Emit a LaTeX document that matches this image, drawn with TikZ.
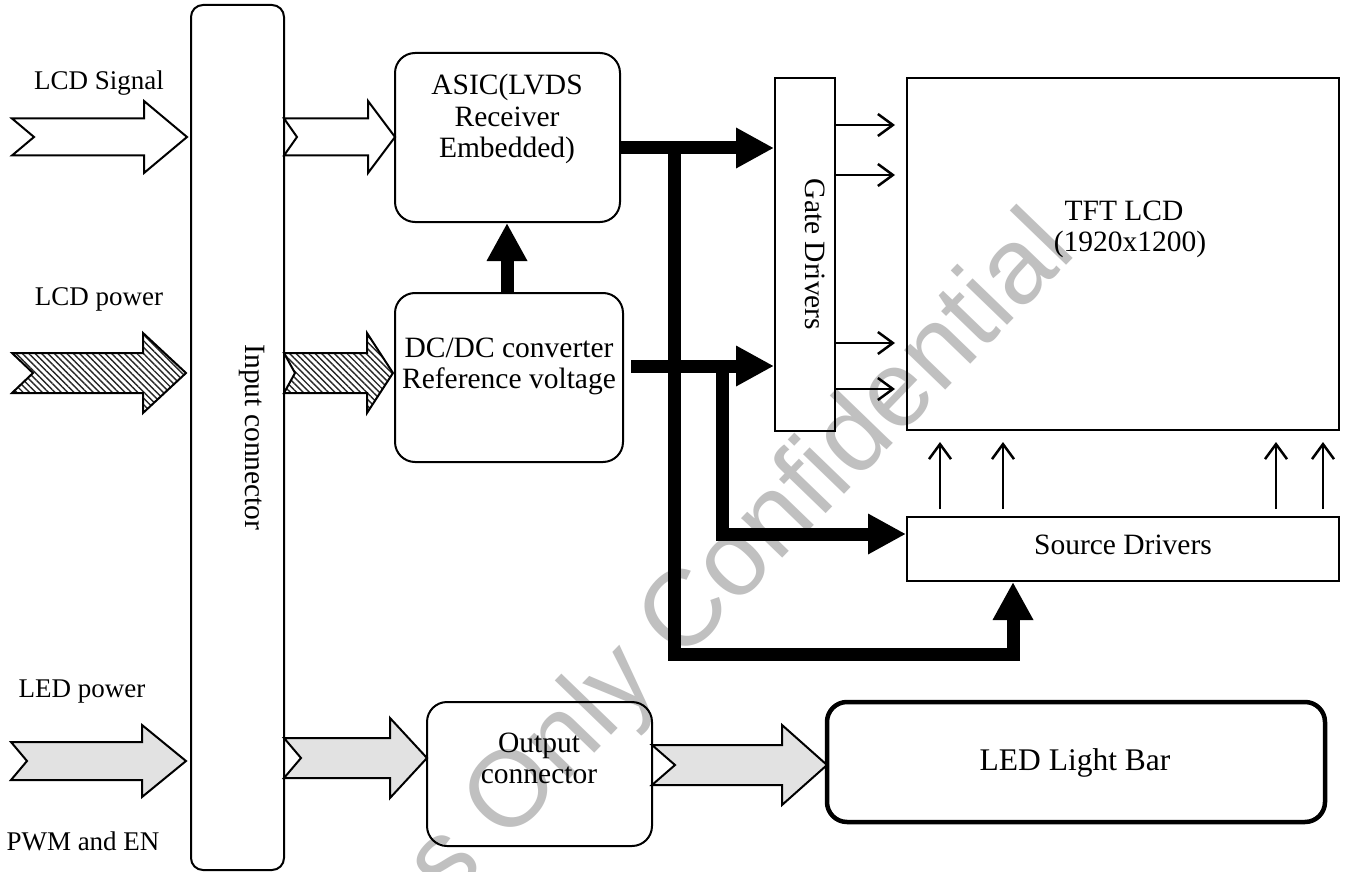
\documentclass[tikz,border=0pt]{standalone}
\usepackage{fontspec}
\setmainfont{Liberation Serif}
\newfontfamily\wmfont{Liberation Sans}
\usetikzlibrary{arrows.meta,patterns.meta,calc}
\definecolor{wmgray}{RGB}{192,192,192}
\definecolor{ledfill}{RGB}{226,226,226}
\tikzset{
  box/.style={draw, line width=2pt, inner sep=0pt},
  rbox/.style={box, rounded corners=20pt},
  txt/.style={anchor=base, inner sep=0pt, font=\fontsize{29.5}{34}\selectfont},
  lbl/.style={anchor=base, inner sep=0pt, font=\fontsize{27}{32}\selectfont},
  vtxt/.style={rotate=-90, inner sep=0pt, font=\fontsize{29.5}{34}\selectfont},
  bus/.style={line width=13pt, line join=miter},
  busarrow/.style={bus, -{Triangle[length=38pt,width=38pt]}},
  thinarrow/.style={line width=2.5pt, -{Straight Barb[length=15pt,width=22pt]}},
  sigarrow/.style={draw, line width=2pt, fill=white, line join=miter},
  pwrarrow/.style={draw, line width=2pt, line join=miter,
    pattern={Lines[angle=-45,distance=4.5pt,line width=1.4pt]}, pattern color=black!85},
  ledarrow/.style={draw, line width=2pt, line join=miter, fill=ledfill},
  wmark/.style={font=\wmfont\fontsize{108}{120}\selectfont, text=wmgray, inner sep=0pt}
}
% block arrow: style, tail x, tip x, y, shaft half, head half, head length, notch depth
\newcommand{\blockarrow}[8]{%
  \path[#1] (#2,{#4-#5}) -- ({#3-#7},{#4-#5}) -- ({#3-#7},{#4-#6}) -- (#3,#4)
    -- ({#3-#7},{#4+#6}) -- ({#3-#7},{#4+#5}) -- (#2,{#4+#5}) -- ({#2+#8},#4) -- cycle;}
\begin{document}
\begin{tikzpicture}[x=1pt,y=-1pt]
\useasboundingbox (0,0) rectangle (1350,872);
\fill[white] (0,0) rectangle (1350,872);

% watermark
\begin{scope}
  \clip (0,0) rectangle (1350,872);
  \node[wmark, anchor=base west, rotate=46] (watermark) at (448,905) {s Only Confidential};
\end{scope}

% labels on the left
\node[lbl] (lblsig) at (99,90) {LCD Signal};
\node[lbl] (lblpwr) at (99,305) {LCD power};
\node[lbl] (lblled) at (82,697) {LED power};
\node[lbl] (lblpwm) at (83,850) {PWM and EN};

% boxes
\node[rbox, rounded corners=12pt, minimum width=93pt, minimum height=865pt] (inconn) at (237.5,437.5) {};
\node[vtxt] (inconntxt) at (252,437.5) {Input connector};

\node[rbox, minimum width=225pt, minimum height=169pt] (asic) at (507.5,137.5) {};
\node[txt] (asic1) at (507,95) {ASIC(LVDS};
\node[txt] (asic2) at (507,127) {Receiver};
\node[txt] (asic3) at (507,158) {Embedded)};

\node[rbox, minimum width=228pt, minimum height=169pt] (dcdc) at (509,377.5) {};
\node[txt] (dcdc1) at (509,357) {DC/DC converter};
\node[txt] (dcdc2) at (509,388) {Reference voltage};

\node[box, minimum width=60pt, minimum height=353pt] (gate) at (805,254.5) {};
\node[vtxt] (gatetxt) at (815,254.5) {Gate Drivers};

\node[box, minimum width=432pt, minimum height=352pt] (tft) at (1123,254) {};
\node[txt] (tft1) at (1124,220) {TFT LCD};
\node[txt] (tft2) at (1130,251) {(1920x1200)};

\node[box, minimum width=432pt, minimum height=64pt] (sd) at (1123,549) {};
\node[txt] (sdtxt) at (1123,554) {Source Drivers};

\node[rbox, minimum width=225pt, minimum height=144pt] (outconn) at (539.5,774) {};
\node[txt] (out1) at (539,752) {Output};
\node[txt] (out2) at (539,783) {connector};

\node[rbox, line width=4.5pt, minimum width=498pt, minimum height=120pt] (ledbar) at (1076,762) {};
\node[txt, font=\fontsize{31.5}{36}\selectfont] (ledtxt) at (1075,770) {LED Light Bar};

% block arrows
\blockarrow{sigarrow}{12}{187}{137}{18.5}{36}{43}{22}
\blockarrow{sigarrow}{284}{395}{137}{18.5}{36}{27}{13}
\blockarrow{pwrarrow}{12}{186}{373}{20}{40}{43}{21}
\blockarrow{pwrarrow}{284}{393}{373}{20}{40}{26}{11}
\blockarrow{ledarrow}{11}{186}{761}{19}{36}{44}{16}
\blockarrow{ledarrow}{284}{427}{758}{20}{40}{37}{17}
\blockarrow{ledarrow}{652}{827}{765}{20}{40}{45}{23}

% thick buses
\coordinate (dcout) at (631,366);
\draw[busarrow] (dcdc.north -| 507,0) -- (asic.south -| 507,0);
\draw[busarrow] (asic.east |- 0,148) -- (gate.west |- 0,148);
\draw[busarrow] (dcout) -- (gate.west |- dcout);
\draw[busarrow] (674,148) -- (674,654) -- (1013,654) -- (sd.south -| 1013,0);
\draw[busarrow] (722,366) -- (722,534) -- (sd.west |- 0,534);

% thin arrows gate -> tft
\foreach \yy in {125, 175, 343, 389}{
  \draw[thinarrow] (gate.east |- 0,\yy) -- ($(tft.west |- 0,\yy)+(-11,0)$);
}
% thin arrows source -> tft
\foreach \xx in {940, 1003, 1276, 1323}{
  \draw[thinarrow] ($(sd.north -| \xx,0)+(0,-7)$) -- ($(tft.south -| \xx,0)+(0,11)$);
}
\end{tikzpicture}
\end{document}
